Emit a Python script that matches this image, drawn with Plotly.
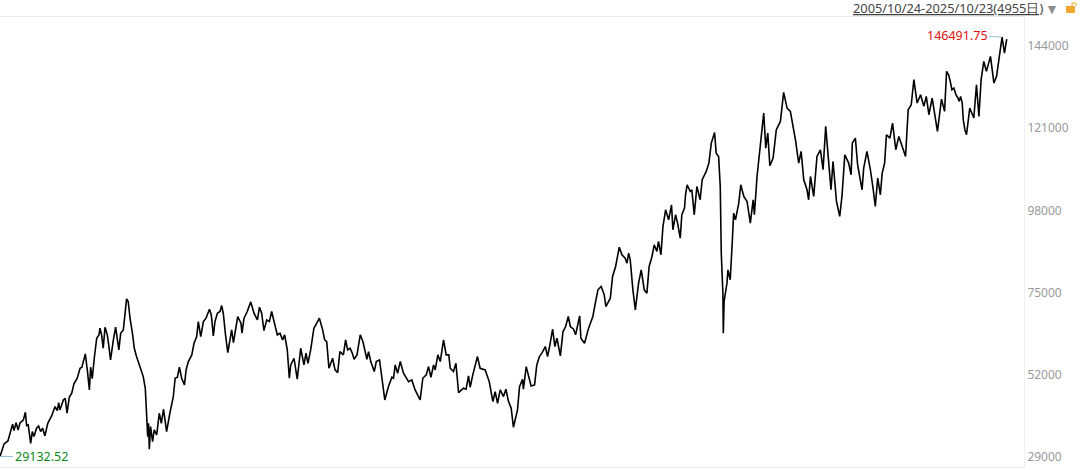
import plotly.graph_objects as go

# trading day number since 2005/10/24
days = [
    0, 13, 20, 39, 56, 62, 69, 79, 89, 98, 115, 125, 131, 139, 151, 159, 167, 180, 190, 200,
    210, 221, 235, 254, 271, 282, 289, 295, 312, 321, 330, 341, 353, 364, 380, 394, 403, 420, 430, 440,
    446, 454, 464, 476, 487, 492, 500, 508, 517, 528, 535, 544, 558, 569, 585, 594, 607, 617, 623, 631,
    640, 653, 661, 672, 689, 705, 715, 722, 727, 731, 735, 741, 751, 759, 771, 784, 794, 805, 820, 836,
    853, 862, 873, 883, 894, 908, 916, 927, 944, 955, 968, 976, 988, 1001, 1014, 1031, 1040, 1050, 1058, 1070,
    1083, 1091, 1099, 1109, 1121, 1132, 1140, 1149, 1160, 1170, 1186, 1191, 1201, 1217, 1234, 1250, 1267, 1277, 1288, 1299,
    1313, 1326, 1337, 1354, 1365, 1378, 1391, 1401, 1414, 1424, 1431, 1447, 1463, 1480, 1496, 1506, 1516, 1529, 1545, 1559,
    1572, 1588, 1598, 1608, 1619, 1637, 1649, 1662, 1673, 1690, 1701, 1711, 1723, 1734, 1743, 1757, 1773, 1786, 1806, 1814,
    1825, 1842, 1852, 1868, 1884, 1894, 1912, 1929, 1937, 1945, 1957, 1970, 1986, 2011, 2027, 2043, 2068, 2081, 2098, 2109,
    2121, 2134, 2142, 2155, 2167, 2183, 2196, 2209, 2216, 2232, 2244, 2257, 2281, 2294, 2306, 2314, 2327, 2339, 2350, 2363,
    2388, 2408, 2426, 2437, 2449, 2462, 2478, 2490, 2503, 2516, 2527, 2547, 2557, 2572, 2576, 2590, 2601, 2614, 2631, 2642,
    2655, 2667, 2684, 2695, 2705, 2720, 2731, 2741, 2758, 2771, 2784, 2797, 2807, 2823, 2833, 2853, 2859, 2877, 2897, 2918,
    2930, 2943, 2959, 2974, 2982, 3004, 3015, 3030, 3048, 3061, 3077, 3086, 3094, 3102, 3115, 3127, 3143, 3156, 3171, 3184,
    3195, 3209, 3220, 3233, 3241, 3253, 3263, 3276, 3291, 3305, 3312, 3325, 3335, 3348, 3356, 3369, 3374, 3382, 3397, 3405,
    3417, 3430, 3446, 3456, 3476, 3489, 3501, 3517, 3525, 3537, 3545, 3550, 3558, 3560, 3564, 3578, 3583, 3594, 3603, 3611,
    3620, 3636, 3646, 3661, 3677, 3693, 3707, 3713, 3726, 3743, 3759, 3769, 3779, 3789, 3805, 3821, 3841, 3857, 3874, 3890,
    3903, 3915, 3931, 3943, 3956, 3972, 3980, 3989, 4005, 4021, 4038, 4051, 4064, 4079, 4090, 4100, 4117, 4133, 4144, 4158,
    4177, 4189, 4195, 4210, 4221, 4243, 4251, 4267, 4284, 4297, 4308, 4320, 4333, 4342, 4354, 4363, 4380, 4393, 4409, 4424,
    4441, 4457, 4470, 4485, 4498, 4514, 4531, 4547, 4559, 4572, 4588, 4605, 4614, 4634, 4649,
    4659, 4669, 4679, 4685, 4695, 4705, 4715, 4721, 4728, 4736, 4741, 4749, 4757,
    4773, 4793, 4806, 4818, 4829, 4842, 4855, 4875, 4892, 4905, 4919, 4932, 4944, 4955,
]
index_values = [
    29132.52, 31440, 32660, 33500, 37040, 38160, 36390, 38630, 36570, 38440, 39370, 41520, 37790, 37970, 32840, 36110, 34710, 37040, 37690, 36110,
    37040, 34900, 38440, 40490, 43110, 41990, 44230, 42170, 44970, 45440, 41240, 45720, 46840, 49450, 51040, 53840, 54120, 57850, 53180, 47770,
    54120, 50940, 56630, 62230, 63170, 65030, 63170, 59430, 65310, 63170, 60370, 56170, 61770, 65310, 58970, 63630, 64570, 69230, 73240, 72500,
    67830, 63170, 59430, 57100, 53840, 51500, 48240, 41240, 34710, 38440, 31160, 37510, 33310, 36570, 35180, 41240, 38440, 42360, 36110, 41240,
    45900, 51040, 51320, 54110, 51040, 49170, 53370, 55700, 57570, 60830, 62700, 66900, 62700, 66900, 67830, 70350, 68760, 62880, 66900, 69230,
    69700, 71370, 69230, 63630, 58220, 61770, 64560, 61020, 64560, 68300, 66430, 63630, 67830, 69700, 72400, 69230, 67360, 70910, 69230, 64380,
    67360, 66900, 69700, 65500, 63160, 63630, 61770, 63160, 58970, 51040, 54770, 56630, 50760, 59430, 54770, 58030, 55230, 58970, 65030, 66430,
    67830, 64560, 61770, 61300, 53830, 56630, 53370, 52620, 58500, 57570, 61770, 58970, 59430, 58030, 56350, 57570, 63160, 61300, 56350, 58500,
    55700, 52900, 55700, 56170, 49170, 44970, 48700, 51310, 51030, 54770, 52430, 55700, 52430, 50100, 50570, 47770, 44970, 51030, 51970, 54300,
    51310, 54770, 53370, 57570, 55700, 61770, 57570, 57570, 53830, 52900, 55230, 47020, 48240, 47960, 51690, 48520, 51970, 54300, 57100, 53830,
    53370, 50100, 44500, 47300, 44040, 47770, 45900, 47960, 44500, 42640, 37320, 42170, 48700, 50750, 47960, 54300, 51970, 48890, 49170, 54770,
    57100, 58050, 59910, 57120, 59910, 64770, 59910, 62250, 57300, 64110, 65510, 68310, 65510, 64770, 63180, 68500, 62250, 60850, 65050, 68310,
    72050, 75780, 76710, 74380, 71110, 73450, 79510, 82310, 87720, 85580, 84640, 83240, 86040, 84170, 75780, 70180, 77640, 81380, 75780, 74840,
    82310, 85110, 88370, 86510, 89300, 85580, 93500, 98170, 95370, 99570, 92570, 96770, 94440, 90240, 96770, 98630, 102370, 105170, 103300, 103770,
    96770, 104700, 100970, 106570, 108900, 111230, 116830, 119810, 114030, 113100, 104700, 86040, 74840, 63650, 72510, 77640, 81380, 78580, 87910, 97240,
    95370, 100040, 105170, 101900, 100500, 94440, 100970, 96770, 107500, 116830, 125230, 115430, 119630, 110490, 112630, 120570, 122900, 131010, 126630, 125700,
    121960, 117770, 111230, 114500, 106570, 103770, 100970, 107500, 101900, 113100, 114970, 109370, 121500, 111230, 103770, 111700, 100500, 96310, 101900, 113570,
    111230, 107970, 116830, 118230, 110770, 103770, 109840, 114500, 109370, 104240, 99100, 107040, 102370, 108440, 111240, 119170, 118240, 122440, 114970, 118700,
    115900, 113100, 126170, 127570, 134570, 128040, 130370, 127100, 129900, 124770, 129430, 122440, 120100, 129150, 125700,
    136900, 135960, 133630, 131760, 132230, 130360, 129430, 128500, 129900, 128030, 123370, 120570, 119170,
    126630, 123840, 133170, 124300, 134570, 139700, 136900, 141100, 133630, 135500, 142030, 146491.75, 142030, 145950,
]
y_ticks = [29000, 52000, 75000, 98000, 121000, 144000]
y_ticklabels = ["29000", "52000", "75000", "98000", "121000", "144000"]
range_label = "2005/10/24-2025/10/23(4955日)"
max_label = "146491.75"
min_label = "29132.52"

fig = go.Figure()
fig.add_trace(
    go.Scatter(x=days, y=index_values, mode="lines", line=dict(color="#000000", width=1.6))
)

fig.add_annotation(
    x=days[index_values.index(max(index_values))], y=max(index_values),
    text=max_label, font=dict(color="#e0100f", size=12.5),
    showarrow=True, ax=-45, ay=-2, arrowhead=0, arrowwidth=0.8, arrowcolor="#7db7c6",
)
fig.add_annotation(
    x=days[0], y=index_values[0],
    text=min_label, font=dict(color="#0a8a20", size=12.5),
    showarrow=True, ax=41, ay=0, arrowhead=0, arrowwidth=0.8, arrowcolor="#7db7c6",
)
fig.add_annotation(
    xref="paper", yref="paper", x=1045 / 1024, y=1.0, yanchor="bottom", xanchor="right", yshift=-2,
    text=range_label, showarrow=False,
    font=dict(color="#444444", size=12.8, lineposition="under"),
)
fig.add_annotation(
    xref="paper", yref="paper", x=1052 / 1024, y=1.0, yanchor="bottom", xanchor="center", yshift=-3,
    text="▼", showarrow=False, font=dict(color="#8c8c8c", size=14),
)

# small lock icon in the corner
fig.add_shape(type="rect", xref="paper", yref="paper",
              x0=1066 / 1024, x1=1075 / 1024, y0=1 + 4 / 450, y1=1 + 11 / 450,
              fillcolor="#f0a830", line_width=0)
fig.add_shape(type="path", xref="paper", yref="paper",
              path=f"M {1072 / 1024} {1 + 11 / 450} L {1072 / 1024} {1 + 14 / 450} L {1076 / 1024} {1 + 14 / 450} L {1076 / 1024} {1 + 11 / 450}",
              line=dict(color="#f0a830", width=1))

fig.update_layout(
    width=1080,
    height=470,
    margin=dict(l=0, r=56, t=17, b=3),
    paper_bgcolor="white",
    plot_bgcolor="white",
    showlegend=False,
    font=dict(family="Noto Sans"),
    xaxis=dict(range=[0, 5040], showgrid=False, zeroline=False, showticklabels=False,
               showline=True, mirror=True, linecolor="#ececec", linewidth=1, ticks=""),
    yaxis=dict(range=[26202, 152114], side="right", tickvals=y_ticks, ticktext=y_ticklabels,
               tickfont=dict(color="#9a9a9a", size=12), showgrid=False, zeroline=False,
               showline=True, linecolor="#f0f0f0", linewidth=1, ticks=""),
)

# page default margin would push the chart off the window
fig.write_html(
    "out.html",
    config={"displayModeBar": False},
    post_script="document.body.style.margin='0';document.body.style.overflow='hidden';",
)
